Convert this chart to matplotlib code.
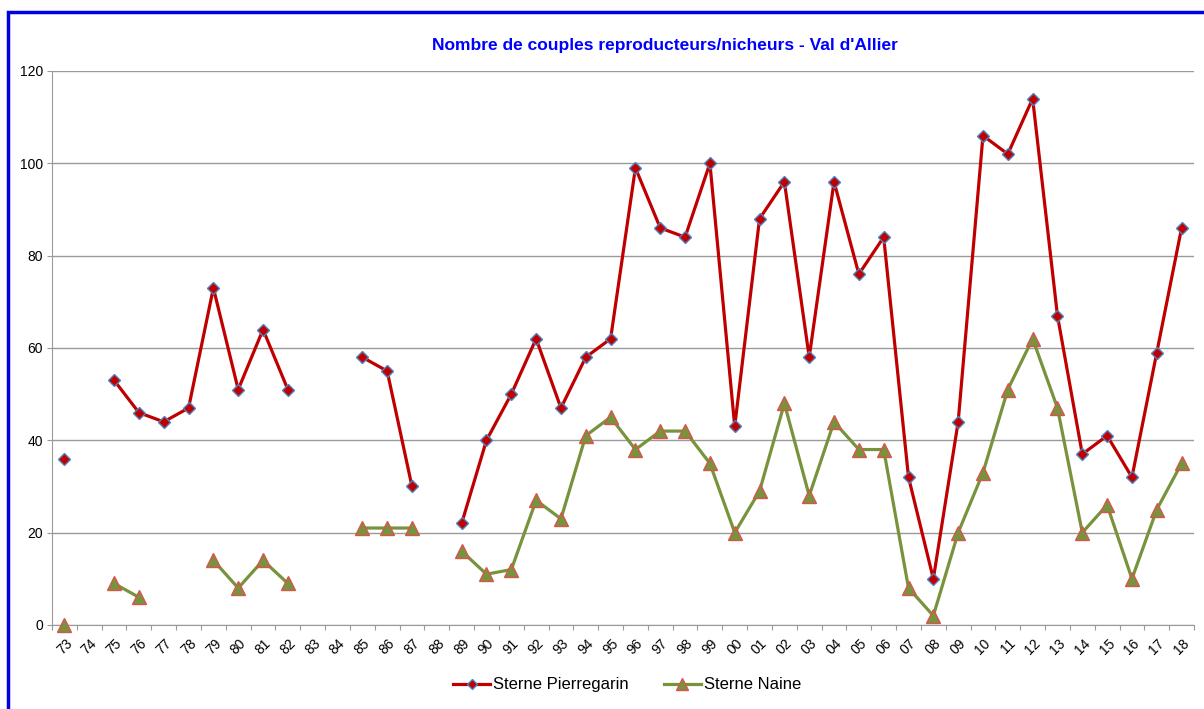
import numpy as np
import matplotlib.pyplot as plt
from matplotlib.patches import Rectangle

# Années (deux derniers chiffres)
annees = ['73', '74', '75', '76', '77', '78', '79', '80', '81', '82', '83', '84', '85', '86', '87',
          '88', '89', '90', '91', '92', '93', '94', '95', '96', '97', '98', '99', '00', '01', '02',
          '03', '04', '05', '06', '07', '08', '09', '10', '11', '12', '13', '14', '15', '16', '17', '18']

nan = np.nan
# Sterne Pierregarin
pierregarin = [36, nan, 53, 46, 44, 47, 73, 51, 64, 51, nan, nan, 58, 55, 30,
               nan, 22, 40, 50, 62, 47, 58, 62, 99, 86, 84, 100, 43, 88, 96,
               58, 96, 76, 84, 32, 10, 44, 106, 102, 114, 67, 37, 41, 32, 59, 86]
# Sterne Naine
naine = [0, nan, 9, 6, nan, nan, 14, 8, 14, 9, nan, nan, 21, 21, 21,
         nan, 16, 11, 12, 27, 23, 41, 45, 38, 42, 42, 35, 20, 29, 48,
         28, 44, 38, 38, 8, 2, 20, 33, 51, 62, 47, 20, 26, 10, 25, 35]

plt.rcParams['font.family'] = ['Liberation Sans', 'DejaVu Sans']

fig = plt.figure(figsize=(12.04, 7.09), dpi=100)
ax = fig.add_axes([0.0432, 0.1185, 0.9485, 0.7814])

x = np.arange(len(annees))
ax.plot(x, pierregarin, color='#C00000', lw=2.3, marker='D', markersize=6,
        markerfacecolor='#C00000', markeredgecolor='#4F81BD', markeredgewidth=1.0,
        label='Sterne Pierregarin', zorder=3, clip_on=False)
ax.plot(x, naine, color='#77933C', lw=2.3, marker='^', markersize=10,
        markerfacecolor='#77933C', markeredgecolor='#D9544F', markeredgewidth=1.0,
        label='Sterne Naine', zorder=3, clip_on=False)

# Axes et grille
ax.set_xlim(-0.5, len(annees) - 0.5)
ax.set_ylim(0, 120)
ax.set_yticks(range(0, 121, 20))
ax.yaxis.grid(True, color='#9A9A9A', lw=1.0)
ax.set_axisbelow(True)

ax.set_xticks(np.arange(len(annees) + 1) - 0.5)
ax.set_xticklabels([])
ax.set_xticks(x, minor=True)
ax.set_xticklabels(annees, minor=True, rotation=45, ha='center', fontsize=10)
ax.tick_params(axis='x', which='major', length=3.6, color='#9A9A9A', direction='out')
ax.tick_params(axis='x', which='minor', length=0, pad=8)
ax.tick_params(axis='y', length=3.6, color='#9A9A9A', labelsize=10, pad=3)

for s in ['top', 'right']:
    ax.spines[s].set_visible(False)
ax.spines['left'].set_color('#9A9A9A')
ax.spines['bottom'].set_color('#9A9A9A')

fig.text(0.552, 0.936, "Nombre de couples reproducteurs/nicheurs - Val d'Allier",
         ha='center', va='center', color='#0000FF', fontsize=12.5, fontweight='bold')

fig.legend(loc='center', bbox_to_anchor=(0.521, 0.034), ncol=2, frameon=False,
           fontsize=12, handlelength=2.2, columnspacing=2.1, handletextpad=0.2,
           markerscale=0.8)

# Cadre bleu
fig.patches.append(Rectangle((8 / 1204, -0.1), 1.2, 1.1 - 12 / 709,
                             transform=fig.transFigure, fill=False,
                             edgecolor='#0000E0', lw=2.5))

fig.savefig('out.png', dpi=100)
